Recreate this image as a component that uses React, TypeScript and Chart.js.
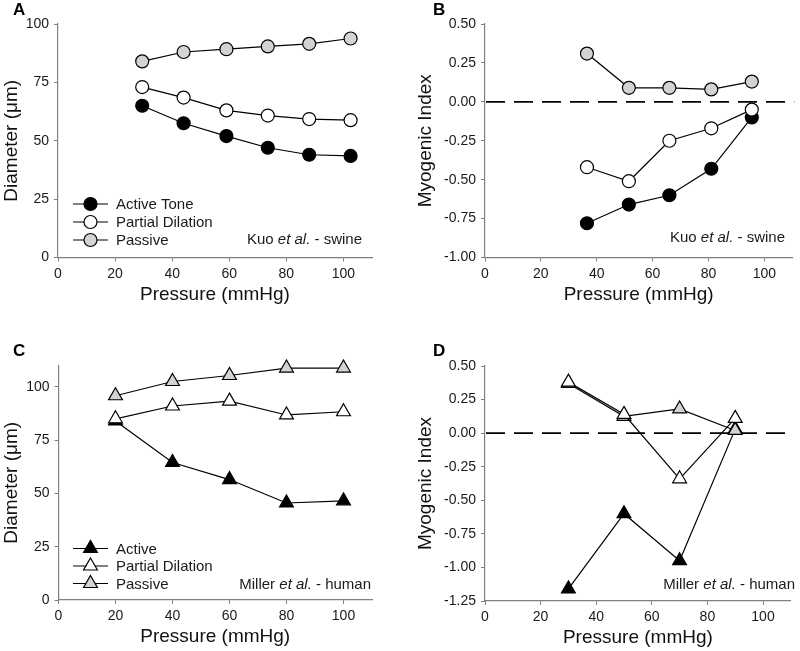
import React, { useEffect, useRef } from "react";
import { Chart, registerables } from "chart.js";
Chart.register(...registerables);

const FONT = '"Liberation Sans", Arial, Helvetica, sans-serif';

// ---- Panel A: Kuo et al. - swine, diameter ----
const aPressure = [29.5, 44, 59, 73.5, 88, 102.5];
const aActive = [65, 57.5, 52, 47, 44, 43.5];
const aPartial = [73, 68.5, 63, 60.8, 59.3, 58.8];
const aPassive = [84, 88, 89.2, 90.4, 91.5, 93.8];
const aYTicks = [0, 25, 50, 75, 100];

// ---- Panel B: Kuo et al. - swine, myogenic index ----
const bPressure = [36.5, 51.5, 66, 81, 95.5];
const bActive = [-0.78, -0.66, -0.6, -0.43, -0.1];
const bPartial = [-0.42, -0.51, -0.25, -0.17, -0.05];
const bPassive = [0.31, 0.09, 0.09, 0.08, 0.13];
const bYTicks = [-1, -0.75, -0.5, -0.25, 0, 0.25, 0.5];

// ---- Panel C: Miller et al. - human, diameter ----
const cPressure = [20, 40, 60, 80, 100];
const cActive = [84, 64.5, 56.5, 45.5, 46.5];
const cPartial = [85, 91, 93.3, 86.8, 88.3];
const cPassive = [95.8, 102.5, 105.3, 108.8, 108.8];
const cYTicks = [0, 25, 50, 75, 100];

// ---- Panel D: Miller et al. - human, myogenic index ----
const dPressure = [30, 50, 70, 90];
const dActive = [-1.16, -0.6, -0.95, 0.03];
const dPartial = [0.38, 0.14, -0.34, 0.11];
const dPassive = [0.37, 0.125, 0.18, 0.02];
const dYTicks = [-1.25, -1, -0.75, -0.5, -0.25, 0, 0.25, 0.5];

const xTicks = [0, 20, 40, 60, 80, 100];

const kuoLegend = ["Active Tone", "Partial Dilation", "Passive"];
const millerLegend = ["Active", "Partial Dilation", "Passive"];
const kuoNote = [
  { t: "Kuo ", i: false },
  { t: "et al.", i: true },
  { t: " - swine", i: false },
];
const millerNote = [
  { t: "Miller ", i: false },
  { t: "et al.", i: true },
  { t: " - human", i: false },
];

const X_TITLE = "Pressure (mmHg)";
const DIAM_TITLE = "Diameter (\u03bcm)";
const MI_TITLE = "Myogenic Index";

const BLACK = "#000000";
const WHITE = "#ffffff";
const GRAY = "#d3d3d3";
const AXIS = "#808080";
const TEXT = "#1a1a1a";

const CIRCLE_R = 6.5;
const TRI_R = 8;

function drawMarker(ctx: CanvasRenderingContext2D, shape: string, x: number, y: number, fill: string) {
  ctx.save();
  ctx.fillStyle = fill;
  ctx.strokeStyle = BLACK;
  ctx.lineWidth = 1.2;
  ctx.beginPath();
  if (shape === "circle") {
    ctx.arc(x, y, CIRCLE_R, 0, Math.PI * 2);
  } else {
    const r = TRI_R;
    ctx.moveTo(x, y - r);
    ctx.lineTo(x + r * Math.sin((2 * Math.PI) / 3), y + r / 2);
    ctx.lineTo(x - r * Math.sin((2 * Math.PI) / 3), y + r / 2);
    ctx.closePath();
  }
  ctx.fill();
  ctx.stroke();
  ctx.restore();
}

const overlay = {
  id: "overlay",
  beforeDatasetsDraw(chart: any, _args: any, opts: any) {
    if (!opts.zeroLine) return;
    const { ctx, chartArea } = chart;
    const y = chart.scales.y.getPixelForValue(0);
    ctx.save();
    ctx.strokeStyle = BLACK;
    ctx.lineWidth = 1.8;
    ctx.setLineDash([19, 9]);
    ctx.beginPath();
    ctx.moveTo(chartArea.left + 1, y);
    ctx.lineTo(chartArea.right + 2, y);
    ctx.stroke();
    ctx.restore();
  },
  afterDraw(chart: any, _args: any, opts: any) {
    const ctx: CanvasRenderingContext2D = chart.ctx;
    ctx.save();
    ctx.fillStyle = BLACK;
    ctx.font = `bold 17px ${FONT}`;
    ctx.textBaseline = "middle";
    ctx.textAlign = "left";
    ctx.fillText(opts.letter, opts.letterX, opts.letterY);
    if (opts.legend) {
      const L = opts.legend;
      L.labels.forEach((lab: string, i: number) => {
        const y = L.y0 + i * L.dy;
        ctx.strokeStyle = BLACK;
        ctx.lineWidth = 1.2;
        ctx.beginPath();
        ctx.moveTo(L.x0, y);
        ctx.lineTo(L.x1, y);
        ctx.stroke();
        drawMarker(ctx, L.shape, (L.x0 + L.x1) / 2, y, L.fills[i]);
        ctx.fillStyle = TEXT;
        ctx.font = `15px ${FONT}`;
        ctx.textAlign = "left";
        ctx.textBaseline = "middle";
        ctx.fillText(lab, L.tx, y + 1);
      });
    }
    if (opts.note) {
      const parts = opts.note.parts;
      let total = 0;
      const widths = parts.map((p: any) => {
        ctx.font = `${p.i ? "italic " : ""}15px ${FONT}`;
        const w = ctx.measureText(p.t).width;
        total += w;
        return w;
      });
      let x = opts.note.right - total;
      ctx.fillStyle = TEXT;
      ctx.textAlign = "left";
      ctx.textBaseline = "middle";
      parts.forEach((p: any, i: number) => {
        ctx.font = `${p.i ? "italic " : ""}15px ${FONT}`;
        ctx.fillText(p.t, x, opts.note.y);
        x += widths[i];
      });
    }
    ctx.restore();
  },
};

function series(label: string, xs: number[], ys: number[], fill: string, shape: string, order: number) {
  return {
    label,
    data: xs.map((x, i) => ({ x, y: ys[i] })),
    borderColor: BLACK,
    borderWidth: 1.2,
    backgroundColor: fill,
    pointBackgroundColor: fill,
    pointBorderColor: BLACK,
    pointBorderWidth: 1.2,
    pointRadius: shape === "circle" ? CIRCLE_R : TRI_R,
    pointStyle: shape,
    showLine: true,
    fill: false,
    tension: 0,
    clip: false,
    order,
  };
}

type Spec = {
  w: number;
  h: number;
  left: number;
  top: number;
  datasets: any[];
  yMin: number;
  yMax: number;
  yTicks: number[];
  yDecimals: number;
  yTitle: string;
  yWidth: number;
  yTitlePad: number;
  xHeight: number;
  pad: { left: number; right: number; top: number; bottom: number };
  overlayOpts: any;
};

function makeConfig(s: Spec): any {
  return {
    type: "scatter",
    data: { datasets: s.datasets },
    options: {
      animation: false,
      responsive: false,
      devicePixelRatio: 1,
      events: [],
      layout: { padding: s.pad },
      plugins: {
        legend: { display: false },
        tooltip: { enabled: false },
        overlay: s.overlayOpts,
      },
      scales: {
        x: {
          type: "linear",
          min: 0,
          max: 110,
          afterBuildTicks: (sc: any) => {
            sc.ticks = xTicks.map((v) => ({ value: v }));
          },
          afterFit: (sc: any) => {
            sc.height = s.xHeight;
          },
          ticks: {
            color: TEXT,
            font: { family: FONT, size: 14 },
            padding: 4,
            maxRotation: 0,
            autoSkip: false,
            callback: (v: any) => String(v),
          },
          grid: { drawOnChartArea: false, drawTicks: true, tickLength: 4, color: AXIS, lineWidth: 1 },
          border: { display: true, color: AXIS, width: 1.2 },
          title: {
            display: true,
            text: X_TITLE,
            color: "#111111",
            font: { family: FONT, size: 19, lineHeight: 1.2 },
            padding: { top: 0, bottom: 0 },
          },
        },
        y: {
          type: "linear",
          min: s.yMin,
          max: s.yMax,
          afterBuildTicks: (sc: any) => {
            sc.ticks = s.yTicks.map((v) => ({ value: v }));
          },
          afterFit: (sc: any) => {
            sc.width = s.yWidth;
          },
          ticks: {
            color: TEXT,
            font: { family: FONT, size: 14 },
            padding: 5,
            autoSkip: false,
            callback: (v: any) => Number(v).toFixed(s.yDecimals),
          },
          grid: { drawOnChartArea: false, drawTicks: true, tickLength: 4, color: AXIS, lineWidth: 1 },
          border: { display: true, color: AXIS, width: 1.2 },
          title: {
            display: true,
            text: s.yTitle,
            color: "#111111",
            font: { family: FONT, size: 19, lineHeight: 1.2 },
            padding: { top: s.yTitlePad, bottom: 0 },
          },
        },
      },
    },
    plugins: [overlay],
  };
}

function Panel({ spec }: { spec: Spec }) {
  const ref = useRef<HTMLCanvasElement | null>(null);
  useEffect(() => {
    if (!ref.current) return;
    const chart = new Chart(ref.current, makeConfig(spec));
    return () => chart.destroy();
  }, [spec]);
  return (
    <div style={{ position: "absolute", left: spec.left, top: spec.top, width: spec.w, height: spec.h }}>
      <canvas ref={ref} width={spec.w} height={spec.h} style={{ width: spec.w, height: spec.h, display: "block" }} />
    </div>
  );
}

const fills = [BLACK, WHITE, GRAY];

const specA: Spec = {
  w: 400, h: 320, left: 0, top: 0,
  datasets: [
    series(kuoLegend[0], aPressure, aActive, BLACK, "circle", 2),
    series(kuoLegend[1], aPressure, aPartial, WHITE, "circle", 0),
    series(kuoLegend[2], aPressure, aPassive, GRAY, "circle", 1),
  ],
  yMin: 0, yMax: 100, yTicks: aYTicks, yDecimals: 0, yTitle: DIAM_TITLE,
  yWidth: 58, yTitlePad: 0, xHeight: 49,
  pad: { left: 0, right: 28, top: 24, bottom: 13.5 },
  overlayOpts: {
    letter: "A", letterX: 13, letterY: 10,
    legend: { labels: kuoLegend, fills, shape: "circle", x0: 73, x1: 108, tx: 116, y0: 204, dy: 18 },
    note: { parts: kuoNote, right: 362, y: 240 },
  },
};

const specB: Spec = {
  w: 400, h: 320, left: 400, top: 0,
  datasets: [
    series(kuoLegend[0], bPressure, bActive, BLACK, "circle", 2),
    series(kuoLegend[1], bPressure, bPartial, WHITE, "circle", 0),
    series(kuoLegend[2], bPressure, bPassive, GRAY, "circle", 1),
  ],
  yMin: -1, yMax: 0.5, yTicks: bYTicks, yDecimals: 2, yTitle: MI_TITLE,
  yWidth: 85, yTitlePad: 14, xHeight: 49,
  pad: { left: 0, right: 1.5, top: 24, bottom: 13.5 },
  overlayOpts: {
    letter: "B", letterX: 33, letterY: 10, zeroLine: true,
    note: { parts: kuoNote, right: 385, y: 238 },
  },
};

const specC: Spec = {
  w: 400, h: 331, left: 0, top: 320,
  datasets: [
    series(millerLegend[0], cPressure, cActive, BLACK, "triangle", 2),
    series(millerLegend[1], cPressure, cPartial, WHITE, "triangle", 0),
    series(millerLegend[2], cPressure, cPassive, GRAY, "triangle", 1),
  ],
  yMin: 0, yMax: 110, yTicks: cYTicks, yDecimals: 0, yTitle: DIAM_TITLE,
  yWidth: 58.5, yTitlePad: 0, xHeight: 48.4,
  pad: { left: 0, right: 28, top: 45.5, bottom: 2.6 },
  overlayOpts: {
    letter: "C", letterX: 13, letterY: 31,
    legend: { labels: millerLegend, fills, shape: "triangle", x0: 73, x1: 108, tx: 116, y0: 228.5, dy: 17.5 },
    note: { parts: millerNote, right: 371, y: 265 },
  },
};

const specD: Spec = {
  w: 400, h: 331, left: 400, top: 320,
  datasets: [
    series(millerLegend[0], dPressure, dActive, BLACK, "triangle", 2),
    series(millerLegend[1], dPressure, dPartial, WHITE, "triangle", 0),
    series(millerLegend[2], dPressure, dPassive, GRAY, "triangle", 1),
  ],
  yMin: -1.25, yMax: 0.5, yTicks: dYTicks, yDecimals: 2, yTitle: MI_TITLE,
  yWidth: 85, yTitlePad: 14, xHeight: 48.4,
  pad: { left: 0, right: 1.5, top: 46, bottom: 1.6 },
  overlayOpts: {
    letter: "D", letterX: 33, letterY: 31, zeroLine: true,
    note: { parts: millerNote, right: 395, y: 265 },
  },
};

export default function App() {
  return (
    <div style={{ position: "fixed", left: 0, top: 0, width: 800, height: 651, background: "#ffffff", overflow: "hidden" }}>
      <Panel spec={specA} />
      <Panel spec={specB} />
      <Panel spec={specC} />
      <Panel spec={specD} />
    </div>
  );
}
